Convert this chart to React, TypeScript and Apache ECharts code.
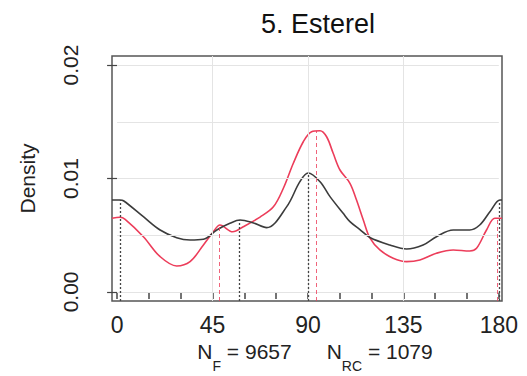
import React, { useEffect, useRef } from "react";
import * as echarts from "echarts";

// Fish (black) density curve: angle (deg), density
const blackAngles = [-2.4, 1.4, 3, 12.4, 20.3, 28.1, 34.4, 40.7, 47, 53.2, 58, 64, 70.5, 80, 86.2, 90.1, 95.7, 100.4, 106.6, 109.8, 114.5, 119.2, 128.6, 136.5, 144.3, 150.6, 158.5, 166.3, 171, 175.8, 180.5, 181.5];
const blackDensity = [0.0081, 0.0081, 0.00804, 0.00663, 0.00546, 0.00478, 0.00458, 0.00464, 0.00546, 0.00605, 0.00634, 0.0061, 0.00567, 0.00752, 0.00972, 0.01048, 0.00972, 0.0084, 0.00693, 0.0062, 0.0055, 0.0048, 0.00414, 0.00379, 0.00414, 0.00487, 0.00546, 0.00546, 0.0059, 0.00707, 0.0081, 0.0081];

// RC (red) density curve
const redAngles = [-2.4, 1.4, 3.8, 12.4, 20.3, 28.1, 34.4, 40.7, 45.4, 48.5, 54.5, 59.5, 67.4, 73.7, 78.4, 83.1, 87.8, 91.7, 95.7, 98.8, 101.9, 105.1, 109.8, 112.9, 116.1, 119.2, 123.9, 130.2, 136.5, 142.8, 150.6, 158.5, 166.3, 169.5, 174.2, 178.1, 181.5];
const redDensity = [0.0065, 0.00658, 0.0064, 0.00487, 0.00311, 0.00229, 0.00267, 0.00414, 0.00531, 0.0059, 0.0053, 0.00575, 0.0066, 0.0075, 0.00914, 0.01134, 0.01324, 0.01412, 0.01421, 0.01368, 0.01222, 0.01075, 0.00958, 0.0081, 0.00634, 0.00476, 0.0037, 0.00297, 0.00267, 0.00282, 0.00341, 0.0037, 0.00361, 0.00385, 0.00546, 0.0065, 0.0065];

// Modes (vertical dotted / dashed lines)
const blackModeAngles = [1.5, 57.5, 90.2, 180];
const blackModeDensity = [0.0081, 0.00634, 0.0105, 0.0081];
const redModeAngles = [48.2, 94, 179.2];
const redModeDensity = [0.0059, 0.0142, 0.0065];

// Axes
const xTicks = [0, 15, 30, 45, 60, 75, 90, 105, 120, 135, 150, 165, 180];
const xLabels = [0, 45, 90, 135, 180];
const yTicks = [0, 0.01, 0.02];
const xGrid = [45, 90, 135];
const yGrid = [0, 0.005, 0.01, 0.015, 0.02];
const xMin = -2.4;
const xMax = 181.5;
const yMin = -0.0008;
const yMax = 0.0208;

const title = "5. Esterel";
const nF = 9657;
const nRC = 1079;

const FONT = "'Liberation Sans', Arial, Helvetica, sans-serif";
const RED = "#ec3d5a";
const BLACK = "#3c3c3c";

export default function App() {
  const ref = useRef<HTMLDivElement>(null);

  useEffect(() => {
    document.body.style.margin = "0";
    if (!ref.current) return;
    const chart = echarts.init(ref.current, undefined, { renderer: "svg" });

    const gridLines: any[] = [];
    yGrid.forEach((v) =>
      gridLines.push([{ coord: [0, v] }, { coord: [180, v] }])
    );
    xGrid.forEach((v) =>
      gridLines.push([{ coord: [v, yMin] }, { coord: [v, yMax] }])
    );

    const modeLines = (angles: number[], vals: number[]) =>
      angles.map((a, i) => [{ coord: [a, yMin] }, { coord: [a, vals[i]] }]);

    chart.setOption({
      animation: false,
      backgroundColor: "#ffffff",
      textStyle: { fontFamily: FONT },
      grid: {
        left: 112,
        right: 25,
        top: 56,
        bottom: 75,
        show: true,
        borderColor: "#555555",
        borderWidth: 1.5,
        backgroundColor: "transparent",
      },
      xAxis: {
        type: "value",
        min: xMin,
        max: xMax,
        axisLine: { show: false },
        splitLine: { show: false },
        axisTick: {
          show: true,
          length: 7,
          customValues: xTicks,
          lineStyle: { color: "#444", width: 1.5 },
        },
        axisLabel: {
          customValues: xLabels,
          fontSize: 23,
          color: "#222",
          margin: 12,
          fontFamily: FONT,
        },
      },
      yAxis: {
        type: "value",
        min: yMin,
        max: yMax,
        name: "Density",
        nameLocation: "middle",
        nameRotate: 90,
        nameGap: 74,
        nameTextStyle: { fontSize: 21, color: "#222", fontFamily: FONT },
        axisLine: { show: false },
        splitLine: { show: false },
        axisTick: {
          show: true,
          length: 10,
          customValues: yTicks,
          lineStyle: { color: "#444", width: 1.2 },
        },
        axisLabel: {
          customValues: yTicks,
          rotate: 90,
          fontSize: 21,
          color: "#222",
          margin: 31,
          fontFamily: FONT,
          formatter: (v: number) => v.toFixed(2),
        },
      },
      graphic: [
        {
          type: "text",
          x: 318,
          y: 24,
          style: {
            text: title,
            fontSize: 27,
            fontFamily: FONT,
            fill: "#111",
            textAlign: "center",
            textVerticalAlign: "middle",
          },
        },
        {
          type: "text",
          x: 315,
          y: 352,
          style: {
            text: `{n|N}{s|F}{n| = ${nF}      N}{s|RC}{n| = ${nRC}}`,
            textAlign: "center",
            textVerticalAlign: "middle",
            fill: "#222",
            fontFamily: FONT,
            rich: {
              n: {
                fontSize: 21,
                lineHeight: 22,
                verticalAlign: "top",
                fontFamily: FONT,
                fill: "#222",
              },
              s: {
                fontSize: 14,
                lineHeight: 14,
                verticalAlign: "top",
                padding: [18, 0, 0, 0],
                fontFamily: FONT,
                fill: "#222",
              },
            },
          },
        },
      ],
      series: [
        {
          type: "line",
          name: "grid",
          data: [[0, 0]],
          showSymbol: false,
          lineStyle: { opacity: 0 },
          silent: true,
          z: 1,
          markLine: {
            silent: true,
            symbol: "none",
            label: { show: false },
            lineStyle: { color: "#e4e4e4", width: 1, type: "solid" },
            emphasis: { disabled: true },
            data: gridLines,
          },
        },
        {
          type: "line",
          name: "RC",
          data: redAngles.map((a, i) => [a, redDensity[i]]),
          showSymbol: false,
          smooth: 0.35,
          clip: true,
          z: 3,
          lineStyle: { color: RED, width: 1.6 },
          markLine: {
            silent: true,
            symbol: "none",
            label: { show: false },
            emphasis: { disabled: true },
            lineStyle: { color: RED, width: 1, type: [4, 3], opacity: 0.8 },
            data: modeLines(redModeAngles, redModeDensity),
          },
        },
        {
          type: "line",
          name: "F",
          data: blackAngles.map((a, i) => [a, blackDensity[i]]),
          showSymbol: false,
          smooth: 0.35,
          clip: true,
          z: 4,
          lineStyle: { color: BLACK, width: 1.6 },
          markLine: {
            silent: true,
            symbol: "none",
            label: { show: false },
            emphasis: { disabled: true },
            lineStyle: { color: "#444", width: 1.3, type: [2, 2] },
            data: modeLines(blackModeAngles, blackModeDensity),
          },
        },
      ],
    });

    return () => chart.dispose();
  }, []);

  return <div ref={ref} style={{ width: 527, height: 376 }} />;
}
